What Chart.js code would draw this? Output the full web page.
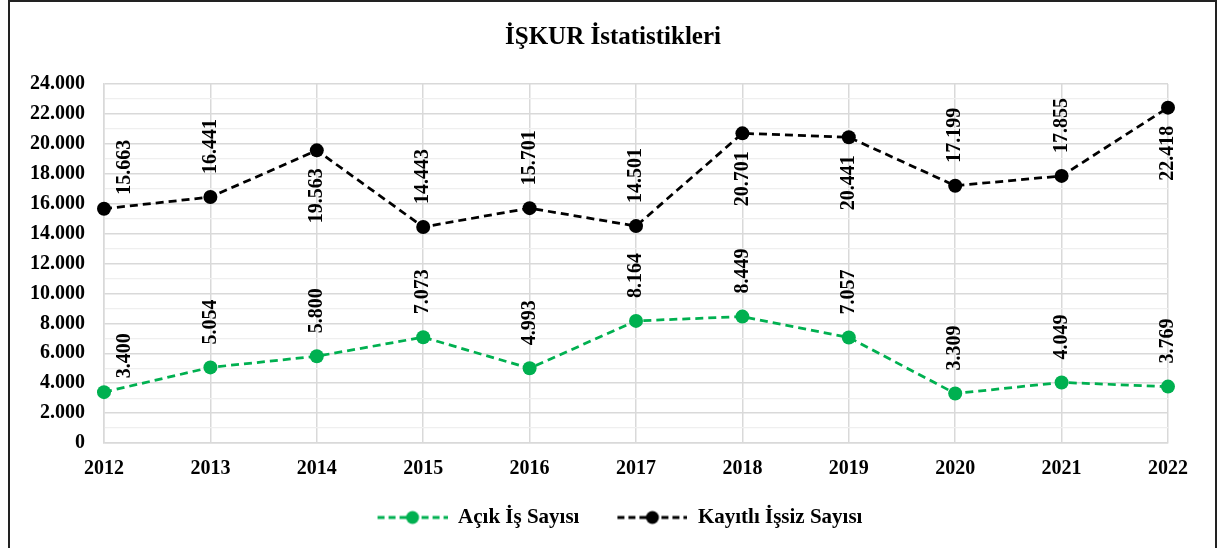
<!DOCTYPE html>
<html lang="tr">
<head>
<meta charset="utf-8">
<title>İŞKUR İstatistikleri</title>
<script src="https://cdn.jsdelivr.net/npm/chart.js@4.4.1/dist/chart.umd.min.js"></script>
<style>
    html, body { margin: 0; padding: 0; background: #fff; }
    #wrap { position: relative; width: 1219px; height: 548px; }
</style>
</head>
<body>
<div id="wrap"><canvas id="mainChart"></canvas></div>
<script>
// --- DATA ---
const years = ['2012', '2013', '2014', '2015', '2016', '2017', '2018', '2019', '2020', '2021', '2022'];
const acikIsSayisi = [3400, 5054, 5800, 7073, 4993, 8164, 8449, 7057, 3309, 4049, 3769];
const kayitliIssizSayisi = [15663, 16441, 19563, 14443, 15701, 14501, 20701, 20441, 17199, 17855, 22418];
const yMin = 0;
const yMax = 24000;
const yLabelStep = 2000;   // labelled (major) grid lines
const yMinorStep = 1000;   // minor grid lines

// years where the black series label sits under the point
const kayitliLabelBelow = ['2014', '2018', '2019', '2022'];

const GREEN = '#00b050';
const BLACK = '#000000';
const FONT = 'Liberation Serif, Times New Roman, serif';

const fmt = v => String(v).replace(/\B(?=(\d{3})+(?!\d))/g, '.');

// legend swatch: dashed line with a dot in the middle
function makeSwatch(color) {
    const c = document.createElement('canvas');
    c.width = 88;
    c.height = 16;
    const g = c.getContext('2d');
    g.strokeStyle = color;
    g.lineWidth = 3;
    g.setLineDash([7, 4]);
    g.beginPath();
    g.moveTo(18, 8);
    g.lineTo(88, 8);
    g.stroke();
    g.fillStyle = color;
    g.beginPath();
    g.arc(53, 8, 6.5, 0, Math.PI * 2);
    g.fill();
    return c;
}

// frame around the whole chart
const framePlugin = {
    id: 'frame',
    beforeDraw(chart) {
        const c = chart.ctx;
        c.save();
        c.strokeStyle = '#222';
        c.lineWidth = 2;
        c.strokeRect(9, 1, 1207, 560);
        c.restore();
    }
};

// centre title and legend on the whole frame, not only the plot
const boxShift = {
    id: 'boxShift',
    afterLayout(chart) {
        if (chart.legend) {
            chart.legend.left += 22;
            chart.legend.right += 22;
        }
        if (chart.titleBlock) {
            chart.titleBlock.left += 24;
            chart.titleBlock.right += 24;
        }
    }
};

// rotated value labels
const valueLabels = {
    id: 'valueLabels',
    afterDatasetsDraw(chart) {
        const c = chart.ctx;
        c.save();
        c.font = 'bold 20px ' + FONT;
        c.fillStyle = '#000';
        c.textBaseline = 'middle';
        chart.data.datasets.forEach((ds, di) => {
            const meta = chart.getDatasetMeta(di);
            meta.data.forEach((pt, i) => {
                const below = di === 1 && kayitliLabelBelow.includes(years[i]);
                let x = pt.x;
                let gap = below ? 18 : 23;
                if (i === 0) { x += 21; gap = 14; }
                c.save();
                c.translate(x, pt.y);
                c.rotate(-Math.PI / 2);
                if (below) {
                    c.textAlign = 'right';
                    c.fillText(fmt(ds.data[i]), -gap, 0);
                } else {
                    c.textAlign = 'left';
                    c.fillText(fmt(ds.data[i]), gap, 0);
                }
                c.restore();
            });
        });
        c.restore();
    }
};

const ctx = document.getElementById('mainChart');
new Chart(ctx, {
    type: 'line',
    data: {
        labels: years,
        datasets: [{
            label: 'Açık İş Sayısı',
            data: acikIsSayisi,
            borderColor: GREEN,
            backgroundColor: GREEN,
            borderWidth: 2.75,
            borderDash: [8, 5],
            pointRadius: 7,
            pointBorderWidth: 0,
            pointHoverRadius: 7,
            tension: 0
        }, {
            label: 'Kayıtlı İşsiz Sayısı',
            data: kayitliIssizSayisi,
            borderColor: BLACK,
            backgroundColor: BLACK,
            borderWidth: 2.75,
            borderDash: [8, 5],
            pointRadius: 7,
            pointBorderWidth: 0,
            pointHoverRadius: 7,
            tension: 0
        }]
    },
    options: {
        responsive: true,
        maintainAspectRatio: false,
        animation: false,
        layout: { padding: { left: 10, right: 51, top: 2, bottom: 10 } },
        plugins: {
            title: {
                display: true,
                text: 'İŞKUR İstatistikleri',
                color: '#000',
                font: { family: FONT, size: 25, weight: 'bold' },
                padding: { top: 21, bottom: 31 }
            },
            legend: {
                position: 'bottom',
                labels: {
                    color: '#000',
                    font: { family: FONT, size: 21, weight: 'bold' },
                    usePointStyle: true,
                    pointStyleWidth: 88,
                    padding: 20,
                    generateLabels: chart => chart.data.datasets.map((ds, i) => ({
                        text: ds.label,
                        fillStyle: ds.borderColor,
                        strokeStyle: ds.borderColor,
                        lineWidth: 0,
                        pointStyle: makeSwatch(ds.borderColor),
                        hidden: false,
                        datasetIndex: i
                    }))
                }
            },
            tooltip: { enabled: false }
        },
        scales: {
            x: {
                offset: false,
                grid: { color: '#d9d9d9', lineWidth: 1.5, drawTicks: false },
                border: { color: '#d9d9d9', width: 1.5 },
                ticks: {
                    color: '#000',
                    padding: 14,
                    maxRotation: 0,
                    font: { family: FONT, size: 20, weight: 'bold' }
                },
                afterFit: scale => { scale.height = 44; }
            },
            y: {
                min: yMin,
                max: yMax,
                grid: {
                    drawTicks: false,
                    color: c => (c.tick && c.tick.value % yLabelStep === 0) ? '#d9d9d9' : '#efefef',
                    lineWidth: c => (c.tick && c.tick.value % yLabelStep === 0) ? 1.5 : 1.2
                },
                border: { color: '#d9d9d9', width: 1.5 },
                ticks: {
                    stepSize: yMinorStep,
                    autoSkip: false,
                    color: '#000',
                    padding: 19,
                    font: { family: FONT, size: 20, weight: 'bold' },
                    callback: v => (v % yLabelStep === 0 ? fmt(v) : '')
                },
                afterFit: scale => { scale.width = 94; }
            }
        }
    },
    plugins: [framePlugin, boxShift, valueLabels]
});
</script>
</body>
</html>
